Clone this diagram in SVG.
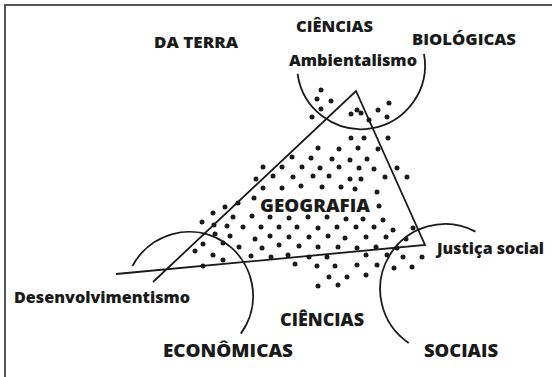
<svg xmlns="http://www.w3.org/2000/svg" width="552" height="377" viewBox="0 0 552 377">
<style>
.t{font-family:"Open Sans","Liberation Sans",sans-serif;font-weight:800;fill:#1a1a1a}
.s17{font-size:16.5px}
.s19{font-size:18px}
.ln{fill:none;stroke:#1a1a1a;stroke-width:1.8}
.d{fill:#1a1a1a}
</style>
<defs><circle id="p" r="2.5" class="d"/></defs>
<rect width="552" height="377" fill="#fff"/>
<path d="M5,377 V5 H552" fill="none" stroke="#555" stroke-width="2"/>
<g id="connectors">
<path class="ln" d="M153,282 L356,91 L425,245 L116,274"/>
<path id="arc-top" class="ln" d="M297.6,73.9 A64,64 0 1 0 424,53.9"/>
<path id="arc-left" class="ln" d="M132.5,266 A64,64 0 1 1 240.8,333.6"/>
<path id="arc-right" class="ln" d="M475.5,231.6 A65,65 0 0 0 408.7,342.9"/>
</g>
<g id="dots">
<use href="#p" x="321" y="90"/><use href="#p" x="317" y="99"/><use href="#p" x="331" y="101"/><use href="#p" x="321" y="109"/><use href="#p" x="312" y="117"/>
<use href="#p" x="351" y="114"/><use href="#p" x="357" y="110"/><use href="#p" x="361" y="113"/><use href="#p" x="369" y="120"/><use href="#p" x="378" y="110"/><use href="#p" x="389" y="103"/><use href="#p" x="387" y="117"/>
<use href="#p" x="351" y="138"/><use href="#p" x="364" y="138"/><use href="#p" x="388" y="138"/>
<use href="#p" x="318" y="148"/><use href="#p" x="339" y="149"/><use href="#p" x="358" y="148"/><use href="#p" x="378" y="149"/>
<use href="#p" x="292" y="157"/><use href="#p" x="311" y="158"/><use href="#p" x="332" y="159"/><use href="#p" x="350" y="160"/><use href="#p" x="367" y="159"/>
<use href="#p" x="263" y="167"/><use href="#p" x="282" y="167"/><use href="#p" x="302" y="167"/><use href="#p" x="320" y="168"/><use href="#p" x="339" y="167"/><use href="#p" x="359" y="168"/><use href="#p" x="374" y="169"/><use href="#p" x="397" y="168"/>
<use href="#p" x="256" y="179"/><use href="#p" x="273" y="176"/><use href="#p" x="293" y="177"/><use href="#p" x="313" y="176"/><use href="#p" x="329" y="176"/><use href="#p" x="350" y="179"/><use href="#p" x="361" y="179"/><use href="#p" x="385" y="177"/><use href="#p" x="407" y="177"/>
<use href="#p" x="263" y="188"/><use href="#p" x="282" y="188"/><use href="#p" x="301" y="186"/><use href="#p" x="322" y="187"/><use href="#p" x="341" y="187"/><use href="#p" x="355" y="189"/><use href="#p" x="377" y="192"/>
<use href="#p" x="225" y="207"/><use href="#p" x="238" y="203"/><use href="#p" x="254" y="198"/><use href="#p" x="379" y="206"/>
<use href="#p" x="202" y="222"/><use href="#p" x="213" y="213"/><use href="#p" x="233" y="217"/><use href="#p" x="252" y="216"/><use href="#p" x="270" y="217"/><use href="#p" x="289" y="218"/><use href="#p" x="308" y="217"/><use href="#p" x="327" y="217"/><use href="#p" x="346" y="219"/><use href="#p" x="363" y="219"/><use href="#p" x="383" y="220"/>
<use href="#p" x="214" y="225"/><use href="#p" x="227" y="226"/><use href="#p" x="243" y="227"/><use href="#p" x="261" y="227"/><use href="#p" x="279" y="227"/><use href="#p" x="297" y="227"/><use href="#p" x="318" y="228"/><use href="#p" x="337" y="227"/><use href="#p" x="356" y="227"/><use href="#p" x="374" y="227"/><use href="#p" x="393" y="230"/><use href="#p" x="413" y="228"/>
<use href="#p" x="215" y="234"/><use href="#p" x="230" y="236"/><use href="#p" x="255" y="239"/><use href="#p" x="270" y="236"/><use href="#p" x="289" y="237"/><use href="#p" x="309" y="237"/><use href="#p" x="328" y="236"/><use href="#p" x="345" y="238"/><use href="#p" x="366" y="237"/><use href="#p" x="386" y="237"/><use href="#p" x="406" y="239"/>
<use href="#p" x="203" y="244"/><use href="#p" x="223" y="243"/><use href="#p" x="239" y="247"/><use href="#p" x="262" y="248"/><use href="#p" x="279" y="245"/><use href="#p" x="299" y="246"/><use href="#p" x="318" y="247"/><use href="#p" x="338" y="247"/><use href="#p" x="357" y="248"/><use href="#p" x="376" y="247"/><use href="#p" x="397" y="248"/>
<use href="#p" x="195" y="251"/><use href="#p" x="213" y="255"/><use href="#p" x="251" y="256"/><use href="#p" x="271" y="257"/><use href="#p" x="288" y="255"/><use href="#p" x="309" y="257"/><use href="#p" x="327" y="257"/><use href="#p" x="366" y="255"/><use href="#p" x="387" y="255"/><use href="#p" x="403" y="257"/><use href="#p" x="422" y="257"/>
<use href="#p" x="223" y="260"/><use href="#p" x="203" y="266"/><use href="#p" x="295" y="264"/><use href="#p" x="317" y="266"/><use href="#p" x="335" y="266"/><use href="#p" x="357" y="265"/><use href="#p" x="377" y="265"/><use href="#p" x="394" y="268"/><use href="#p" x="412" y="267"/>
<use href="#p" x="329" y="277"/><use href="#p" x="347" y="277"/><use href="#p" x="366" y="275"/>
<use href="#p" x="318" y="286"/><use href="#p" x="338" y="285"/>
</g>
<g id="n-ciencias-top"><text class="t s17" x="296" y="32" textLength="77" lengthAdjust="spacingAndGlyphs">CIÊNCIAS</text></g>
<g id="n-da-terra"><text class="t s17" x="154" y="48" textLength="84" lengthAdjust="spacingAndGlyphs">DA TERRA</text></g>
<g id="n-biologicas"><text class="t s17" x="412" y="45" textLength="104" lengthAdjust="spacingAndGlyphs">BIOLÓGICAS</text></g>
<g id="n-ambientalismo"><text class="t s17" x="289" y="66" textLength="128" lengthAdjust="spacingAndGlyphs">Ambientalismo</text></g>
<g id="n-geografia"><text class="t s19" x="260" y="212" textLength="110" lengthAdjust="spacingAndGlyphs">GEOGRAFIA</text></g>
<g id="n-justica"><text class="t s17" x="437" y="254" textLength="107" lengthAdjust="spacingAndGlyphs">Justiça social</text></g>
<g id="n-desenvolvimentismo"><text class="t s17" x="14" y="303" textLength="176" lengthAdjust="spacingAndGlyphs">Desenvolvimentismo</text></g>
<g id="n-ciencias-bottom"><text class="t s19" x="280" y="326" textLength="84" lengthAdjust="spacingAndGlyphs">CIÊNCIAS</text></g>
<g id="n-economicas"><text class="t s19" x="163" y="357" textLength="130" lengthAdjust="spacingAndGlyphs">ECONÔMICAS</text></g>
<g id="n-sociais"><text class="t s19" x="424" y="357" textLength="74" lengthAdjust="spacingAndGlyphs">SOCIAIS</text></g>
</svg>
